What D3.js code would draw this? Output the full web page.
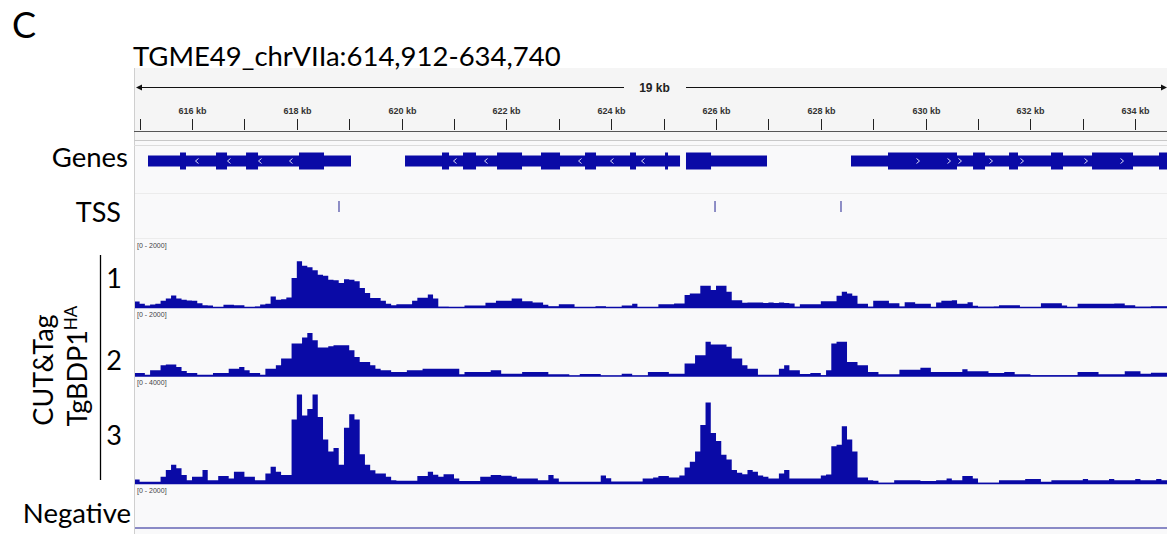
<!DOCTYPE html>
<html>
<head>
<meta charset="utf-8">
<script src="https://cdn.jsdelivr.net/npm/d3@7"></script>
<style>
  body { margin: 0; background: #fff; }
  svg { display: block; }
  .lbl { font-family: Lato, "Open Sans", sans-serif; fill: #000; }
  .igv { font-family: "Liberation Sans", Arial, sans-serif; }
</style>
</head>
<body>
<div id="chart"></div>
<script>

/*****************
***** DATA *****
*****************/

const locus = "TGME49_chrVIIa:614,912-634,740";
const viewStart = 614912;
const viewEnd = 634740;
const rulerTicks = d3.range(615000, 634001, 1000);

// genes: thin body + taller blocks, strand chevrons
const genes = [
  {start: 615160, end: 619034, strand: "-",
   blocks: [[615771, 615885], [616458, 616668], [617031, 617260], [618042, 618519]],
   marks: [616095, 616706, 617298, 617889]},
  {start: 620065, end: 625313, strand: "-",
   blocks: [[620771, 620905], [621172, 621420], [621821, 622298], [622660, 623023],
            [623500, 623710], [624359, 624473], [625027, 625084]],
   marks: [621019, 621611, 623405, 624015, 624607]},
  {start: 625427, end: 626973, strand: "-",
   blocks: [[625427, 625905]],
   marks: []},
  {start: 628576, end: 634800, strand: "+",
   blocks: [[629282, 630599], [630905, 631134], [631592, 631763], [632393, 632622],
            [633176, 633958], [634454, 634800]],
   marks: [629855, 630447, 630656, 631248, 631840, 633061, 633748]}
];

const tssSites = [618805, 625981, 628385];

// coverage bins, 100 bp each starting at 614,900
const binStart = 614900;
const binSize = 100;

const rep1 = [
  180,110,60,90,110,200,270,360,270,230,
  210,200,130,70,60,10,10,80,80,70,
  70,10,15,30,90,110,330,230,250,300,
  880,1380,1250,1200,1110,980,950,830,810,730,
  840,830,780,580,430,280,280,200,110,70,
  100,100,100,200,290,290,390,270,20,20,
  0,0,0,60,60,60,60,140,140,200,
  200,200,270,270,190,190,150,150,80,40,
  40,100,100,100,10,10,10,10,40,40,
  0,0,0,60,60,110,10,10,10,10,
  100,100,100,120,120,370,420,420,650,650,
  520,650,650,470,220,220,140,150,150,150,
  135,150,135,150,135,120,20,100,100,100,
  100,190,190,190,350,470,420,350,110,110,
  20,200,200,200,130,130,30,160,160,110,
  110,110,15,150,200,200,220,110,110,160,
  50,20,20,20,30,70,70,70,70,10,
  10,10,10,130,130,130,130,60,10,10,
  110,110,110,110,110,110,110,120,120,70,
  70,20,20,20,40,40,40,40,40
];

const rep2 = [
  90,90,40,170,170,320,340,340,270,150,
  90,90,40,40,40,90,90,90,220,220,
  270,170,90,90,40,220,220,320,520,520,
  970,970,1150,1280,1070,850,850,890,920,920,
  920,770,570,420,420,320,220,170,170,120,
  120,120,170,170,170,220,220,220,220,220,
  220,220,50,120,120,120,120,120,170,170,
  70,70,70,70,120,120,120,120,120,50,
  50,50,50,10,10,60,60,60,60,10,
  10,10,10,70,70,10,10,10,120,120,
  120,120,70,70,70,370,370,620,620,1020,
  940,940,940,870,520,520,320,220,220,40,
  40,40,40,220,320,170,170,60,60,90,
  90,20,170,970,1020,1020,420,420,320,320,
  120,120,50,50,50,50,190,190,190,190,
  250,250,120,120,120,120,120,120,200,140,
  140,140,140,90,90,90,120,120,50,50,
  50,20,20,20,20,20,20,20,20,20,
  120,120,120,120,50,50,50,50,50,140,
  140,140,70,70,100,100,100,100,100
];

const rep3 = [
  150,65,65,65,65,250,510,700,570,320,
  125,250,250,510,125,125,280,280,190,440,
  440,250,250,125,125,380,630,440,320,320,
  2400,3340,2550,2800,3340,2500,1650,1200,1330,700,
  2090,2600,2400,1100,700,500,380,380,250,125,
  100,100,100,100,280,280,440,330,250,350,
  350,190,90,90,90,90,250,250,320,320,
  290,290,250,190,190,190,190,125,125,320,
  190,65,65,65,65,65,65,65,65,300,
  200,75,75,75,75,75,75,190,190,230,
  280,280,230,230,300,600,820,1200,2200,3040,
  1900,1600,1080,900,510,400,350,510,440,300,
  250,190,190,380,510,190,190,190,190,190,
  190,300,340,1400,1460,2150,1650,1200,230,230,
  125,100,25,25,25,125,125,125,125,125,
  90,90,90,125,125,190,125,125,280,280,
  190,25,25,25,25,125,125,125,125,125,
  165,165,165,65,65,125,125,125,125,125,
  125,165,125,125,125,125,165,125,125,125,
  125,165,125,125,125,165,125,125,125
];

const negative = [];

const tracks = [
  {name: "1", values: rep1, max: 2000, top: 240.5, base: 307.5},
  {name: "2", values: rep2, max: 2000, top: 309, base: 376},
  {name: "3", values: rep3, max: 4000, top: 377, base: 483.5},
  {name: "Negative", values: negative, max: 2000, top: 485, base: 528}
];

const blue = "#0a0aa6";


function chart_init() {

    /*************************
    ***** SET DIMENSIONS *****
    *************************/

    const width = 1167;
    const height = 534;
    const panelLeft = 134;
    const panelTop = 68;

    const x = d3.scaleLinear()
        .domain([viewStart, viewEnd])
        .range([135, 1174]);

    const svg = d3.select("#chart")
        .append("svg")
        .attr("width", width)
        .attr("height", height);

    svg.append("defs").append("clipPath")
        .attr("id", "dataClip")
        .append("rect")
        .attr("x", 135).attr("y", 0)
        .attr("width", width - 135).attr("height", height);

    /*************************
    ***** PANEL BACKDROP *****
    *************************/

    svg.append("rect")
        .attr("x", panelLeft).attr("y", panelTop)
        .attr("width", width - panelLeft).attr("height", height - panelTop)
        .attr("fill", "#f9f9fa");

    svg.append("rect")
        .attr("x", panelLeft).attr("y", panelTop)
        .attr("width", width - panelLeft).attr("height", 72)
        .attr("fill", "#f5f5f5");

    svg.append("line")
        .attr("x1", panelLeft + 0.5).attr("x2", panelLeft + 0.5)
        .attr("y1", panelTop).attr("y2", height)
        .attr("stroke", "#cfcfcf");

    /****************
    ***** RULER *****
    ****************/

    const ruler = svg.append("g").attr("class", "igv");

    ruler.append("line")
        .attr("x1", 138).attr("x2", 1164)
        .attr("y1", 87.5).attr("y2", 87.5)
        .attr("stroke", "#111");
    ruler.append("path")
        .attr("d", "M136,87.5 L142,84.5 L142,90.5 Z")
        .attr("fill", "#111");
    ruler.append("path")
        .attr("d", "M1167,87.5 L1161,84.5 L1161,90.5 Z")
        .attr("fill", "#111");

    // IGV truncates the span
    const spanKb = Math.floor((viewEnd - viewStart) / 1000) + " kb";
    ruler.append("rect")
        .attr("x", 624).attr("y", 80)
        .attr("width", 62).attr("height", 15)
        .attr("fill", "#f5f5f5");
    ruler.append("text")
        .attr("x", (x(viewStart) + x(viewEnd)) / 2)
        .attr("y", 92)
        .attr("text-anchor", "middle")
        .attr("font-size", 12)
        .attr("font-weight", "bold")
        .attr("fill", "#222")
        .text(spanKb);

    const tick = ruler.selectAll(".tick")
        .data(rulerTicks)
        .enter()
        .append("g")
        .attr("class", "tick")
        .attr("transform", d => `translate(${Math.round(x(d)) + 0.5},0)`);

    tick.append("line")
        .attr("y1", 119).attr("y2", 130)
        .attr("stroke", "#222");

    tick.filter(d => (d / 1000) % 2 === 0)
        .append("text")
        .attr("y", 114)
        .attr("text-anchor", "middle")
        .attr("font-size", 9)
        .attr("font-weight", "bold")
        .attr("fill", "#333")
        .text(d => (d / 1000) + " kb");

    ruler.append("line")
        .attr("x1", panelLeft).attr("x2", width)
        .attr("y1", 131.5).attr("y2", 131.5)
        .attr("stroke", "#555");
    ruler.append("line")
        .attr("x1", panelLeft).attr("x2", width)
        .attr("y1", 140.5).attr("y2", 140.5)
        .attr("stroke", "#c8c8c8");
    ruler.append("line")
        .attr("x1", panelLeft).attr("x2", width)
        .attr("y1", 145.5).attr("y2", 145.5)
        .attr("stroke", "#dcdcdc");

    /****************
    ***** GENES *****
    ****************/

    const geneY = 161;
    const geneG = svg.append("g").attr("clip-path", "url(#dataClip)");

    const gene = geneG.selectAll(".gene")
        .data(genes)
        .enter()
        .append("g")
        .attr("class", "gene");

    gene.append("rect")
        .attr("x", d => x(d.start))
        .attr("width", d => x(d.end) - x(d.start))
        .attr("y", geneY - 5.5)
        .attr("height", 11)
        .attr("fill", blue);

    gene.selectAll(".block")
        .data(d => d.blocks)
        .enter()
        .append("rect")
        .attr("x", d => x(d[0]))
        .attr("width", d => Math.max(1.5, x(d[1]) - x(d[0])))
        .attr("y", geneY - 8.5)
        .attr("height", 17)
        .attr("fill", blue);

    gene.selectAll(".mark")
        .data(d => d.marks.map(m => ({pos: m, strand: d.strand})))
        .enter()
        .append("path")
        .attr("d", d => {
            const cx = x(d.pos);
            const s = d.strand === "+" ? 1 : -1;
            return `M${cx - 1.5 * s},${geneY - 2.5} L${cx + 1.5 * s},${geneY} L${cx - 1.5 * s},${geneY + 2.5}`;
        })
        .attr("fill", "none")
        .attr("stroke", "#d8d8f4")
        .attr("stroke-width", 1);

    svg.append("line")
        .attr("x1", panelLeft + 1).attr("x2", width)
        .attr("y1", 193.5).attr("y2", 193.5)
        .attr("stroke", "#ececec");

    /**************
    ***** TSS *****
    **************/

    svg.append("g")
        .selectAll("line")
        .data(tssSites)
        .enter()
        .append("line")
        .attr("x1", d => x(d)).attr("x2", d => x(d))
        .attr("y1", 201).attr("y2", 212)
        .attr("stroke", "#6a6ab4")
        .attr("stroke-width", 1.5);

    svg.append("line")
        .attr("x1", panelLeft + 1).attr("x2", width)
        .attr("y1", 238.5).attr("y2", 238.5)
        .attr("stroke", "#ececec");

    /*******************
    ***** COVERAGE *****
    *******************/

    const covG = svg.append("g").attr("clip-path", "url(#dataClip)");

    tracks.forEach(t => {
        const y = d3.scaleLinear().domain([0, t.max]).range([t.base, t.top]);

        if (t.values.length) {
            const pts = t.values.map((v, i) => ({pos: binStart + i * binSize, v: v}));
            pts.push({pos: binStart + t.values.length * binSize, v: t.values[t.values.length - 1]});

            const area = d3.area()
                .curve(d3.curveStepAfter)
                .x(d => x(d.pos))
                .y0(t.base)
                .y1(d => y(d.v));

            covG.append("path")
                .datum(pts)
                .attr("d", area)
                .attr("fill", blue);
        }

        covG.append("line")
            .attr("x1", 135).attr("x2", width)
            .attr("y1", t.base).attr("y2", t.base)
            .attr("stroke", t.values.length ? blue : "#6464b4")
            .attr("stroke-width", 1.5);

        svg.append("text")
            .attr("class", "igv")
            .attr("x", 137)
            .attr("y", t.top + 7.5)
            .attr("font-size", 7)
            .attr("fill", "#444")
            .text(`[0 - ${t.max}]`);
    });

    /*********************
    ***** LEFT LABELS *****
    *********************/

    svg.append("text").attr("class", "lbl")
        .attr("x", 12).attr("y", 38)
        .attr("font-size", 36)
        .text("C");

    svg.append("text").attr("class", "lbl")
        .attr("x", 133).attr("y", 66)
        .attr("font-size", 27.5)
        .text(locus);

    svg.append("text").attr("class", "lbl")
        .attr("x", 128).attr("y", 167)
        .attr("text-anchor", "end")
        .attr("font-size", 27.5)
        .text("Genes");

    svg.append("text").attr("class", "lbl")
        .attr("x", 121).attr("y", 222)
        .attr("text-anchor", "end")
        .attr("font-size", 27)
        .text("TSS");

    svg.append("text").attr("class", "lbl")
        .attr("x", 131).attr("y", 523)
        .attr("text-anchor", "end")
        .attr("font-size", 27.5)
        .text("Negative");

    const repBase = [288, 370, 445];
    svg.selectAll(".repNum")
        .data(tracks.slice(0, 3))
        .enter()
        .append("text")
        .attr("class", "lbl repNum")
        .attr("x", 114)
        .attr("y", (d, i) => repBase[i])
        .attr("text-anchor", "middle")
        .attr("font-size", 27)
        .text(d => d.name);

    svg.append("line")
        .attr("x1", 100.5).attr("x2", 100.5)
        .attr("y1", 255).attr("y2", 480)
        .attr("stroke", "#000")
        .attr("stroke-width", 1.3);

    svg.append("text").attr("class", "lbl")
        .attr("transform", "translate(53,370) rotate(-90)")
        .attr("text-anchor", "middle")
        .attr("font-size", 27)
        .text("CUT&Tag");

    const bdp = svg.append("text").attr("class", "lbl")
        .attr("transform", "translate(87,366) rotate(-90)")
        .attr("text-anchor", "middle")
        .attr("font-size", 27);
    bdp.append("tspan").text("TgBDP1");
    bdp.append("tspan")
        .attr("font-size", 17)
        .attr("dy", -10)
        .text("HA");
}

chart_init();

</script>
</body>
</html>
